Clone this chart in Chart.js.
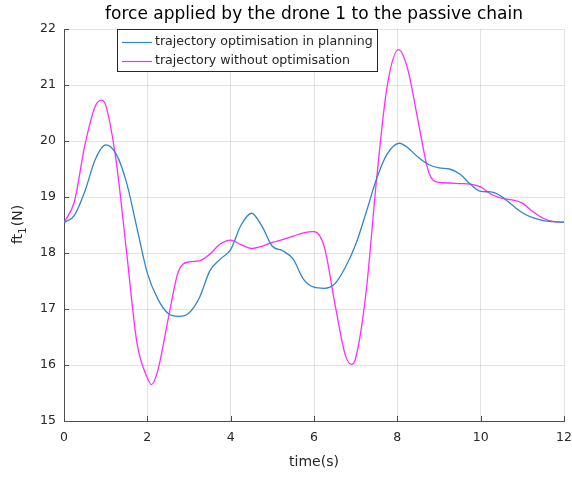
<!DOCTYPE html>
<html>
<head>
<meta charset="utf-8">
<script src="https://cdn.jsdelivr.net/npm/chart.js@4"></script>
<style>
  html, body { margin: 0; padding: 0; background: #fff; }
</style>
</head>
<body>
<canvas id="forceChart" width="572" height="479"></canvas>
<script>
// Force on the passive chain from drone 1, two trajectories
const timePlanned = [0, 0.25, 0.5, 0.75, 1.0, 1.25, 1.5, 1.75, 2.0, 2.25, 2.5, 2.75, 3.0, 3.25, 3.5, 3.75,
  4.0, 4.25, 4.5, 4.75, 5.0, 5.25, 5.5, 5.75, 6.0, 6.25, 6.5, 6.75, 7.0, 7.25, 7.5, 7.75,
  8.05, 8.25, 8.5, 8.75, 9.0, 9.25, 9.5, 9.75, 10.0, 10.25, 10.5, 10.75, 11.0, 11.25, 11.5, 11.75, 12];
const forcePlanned = [18.54, 18.67, 19.10, 19.67, 19.93, 19.77, 19.26, 18.45, 17.64, 17.18, 16.92, 16.87, 16.93, 17.20, 17.68, 17.89,
  18.06, 18.50, 18.71, 18.48, 18.12, 18.04, 17.89, 17.53, 17.39, 17.37, 17.45, 17.74, 18.15, 18.72, 19.32, 19.76,
  19.96, 19.88, 19.71, 19.58, 19.52, 19.50, 19.41, 19.23, 19.10, 19.09, 19.01, 18.86, 18.72, 18.63, 18.58, 18.56, 18.55];

const timeRaw = [0, 0.25, 0.5, 0.75, 0.9, 1.0, 1.25, 1.5, 1.75, 2.0, 2.1, 2.25, 2.5, 2.75, 3.0, 3.25, 3.5, 3.75,
  4.0, 4.25, 4.5, 4.75, 5.0, 5.25, 5.5, 5.75, 6.0, 6.25, 6.5, 6.75, 6.9, 7.0, 7.25, 7.5, 7.75,
  8.03, 8.25, 8.5, 8.75, 9.0, 9.25, 9.5, 9.75, 10.0, 10.25, 10.5, 10.75, 11.0, 11.25, 11.5, 11.75, 12];
const forceRaw = [18.54, 18.92, 19.92, 20.62, 20.73, 20.64, 19.65, 18.03, 16.40, 15.77, 15.65, 15.90, 16.82, 17.68, 17.84, 17.86, 17.98, 18.16,
  18.23, 18.15, 18.08, 18.12, 18.19, 18.24, 18.30, 18.36, 18.38, 18.10, 17.10, 16.18, 16.01, 16.12, 17.30, 19.30, 20.95,
  21.63, 21.28, 20.35, 19.45, 19.26, 19.25, 19.24, 19.23, 19.18, 19.05, 18.98, 18.95, 18.89, 18.74, 18.62, 18.56, 18.55];

const seriesLabels = ['trajectory optimisation in planning', 'trajectory without optimisation'];
const xTicks = [0, 2, 4, 6, 8, 10, 12];
const yTicks = [15, 16, 17, 18, 19, 20, 21, 22];

const FONT = '"DejaVu Sans", "Noto Sans", sans-serif';
const TEXT = '#262626';

function toPoints(xs, ys) {
  return xs.map((x, i) => ({ x: x, y: ys[i] }));
}

// title, y label, inward tick marks and the boxed legend
const decorations = {
  id: 'decorations',
  afterDraw(chart) {
    const { ctx, chartArea: a, scales } = chart;
    ctx.save();

    // inward ticks
    ctx.strokeStyle = '#4d4d4d';
    ctx.lineWidth = 1;
    ctx.beginPath();
    xTicks.forEach(v => {
      const px = Math.round(scales.x.getPixelForValue(v)) + 0.5;
      ctx.moveTo(px, a.bottom);
      ctx.lineTo(px, a.bottom - 5);
    });
    yTicks.forEach(v => {
      const py = Math.round(scales.y.getPixelForValue(v)) + 0.5;
      ctx.moveTo(a.left, py);
      ctx.lineTo(a.left + 5, py);
    });
    ctx.stroke();

    // title
    ctx.fillStyle = '#000';
    ctx.font = '17px ' + FONT;
    ctx.textAlign = 'center';
    ctx.textBaseline = 'middle';
    ctx.fillText('force applied by the drone 1 to the passive chain', (a.left + a.right) / 2, 15);

    // y axis label with subscript
    ctx.fillStyle = TEXT;
    ctx.translate(18, (a.top + a.bottom) / 2);
    ctx.rotate(-Math.PI / 2);
    ctx.textAlign = 'left';
    ctx.textBaseline = 'middle';
    const big = '14px ' + FONT, small = '10.5px ' + FONT;
    ctx.font = big; const w1 = ctx.measureText('ft').width;
    ctx.font = small; const w2 = ctx.measureText('1').width;
    ctx.font = big; const w3 = ctx.measureText('(N)').width;
    const x0 = -(w1 + w2 + w3) / 2;
    ctx.font = big; ctx.fillText('ft', x0, 0);
    ctx.font = small; ctx.fillText('1', x0 + w1, 5);
    ctx.font = big; ctx.fillText('(N)', x0 + w1 + w2 + 1, 0);
    ctx.setTransform(1, 0, 0, 1, 0, 0);

    // legend box
    const bx = 117, by = 29, bw = 260, bh = 42;
    ctx.fillStyle = '#fff';
    ctx.fillRect(bx, by, bw, bh);
    ctx.strokeStyle = '#262626';
    ctx.lineWidth = 1;
    ctx.strokeRect(bx + 0.5, by + 0.5, bw, bh);
    ctx.font = '12.6px ' + FONT;
    ctx.textAlign = 'left';
    ctx.textBaseline = 'middle';
    chart.data.datasets.forEach((ds, i) => {
      const ry = by + 13 + i * 18.5;
      ctx.strokeStyle = ds.borderColor;
      ctx.lineWidth = 1.2;
      ctx.beginPath();
      ctx.moveTo(122, Math.round(ry) + 0.5);
      ctx.lineTo(152, Math.round(ry) + 0.5);
      ctx.stroke();
      ctx.fillStyle = TEXT;
      ctx.fillText(ds.label, 155, ry);
    });
    ctx.restore();
  }
};

const ctx = document.getElementById('forceChart').getContext('2d');
new Chart(ctx, {
  type: 'line',
  data: {
    datasets: [{
      label: seriesLabels[0],
      data: toPoints(timePlanned, forcePlanned),
      borderColor: '#2f86c8',
      borderWidth: 1.3,
      cubicInterpolationMode: 'monotone'
    }, {
      label: seriesLabels[1],
      data: toPoints(timeRaw, forceRaw),
      borderColor: '#ff2bff',
      borderWidth: 1.3,
      cubicInterpolationMode: 'monotone'
    }]
  },
  options: {
    responsive: false,
    animation: false,
    layout: { padding: { top: 29, right: 0, left: 0, bottom: 0 } },
    elements: { point: { radius: 0 } },
    plugins: {
      legend: { display: false },
      title: { display: false },
      tooltip: { enabled: false }
    },
    scales: {
      x: {
        type: 'linear',
        min: 0,
        max: 12,
        afterBuildTicks(s) { s.ticks = xTicks.map(v => ({ value: v })); },
        ticks: { color: TEXT, font: { family: FONT, size: 12.5 }, padding: 9, maxRotation: 0 },
        grid: { color: 'rgba(0,0,0,0.11)', drawTicks: false },
        border: { color: '#4d4d4d' },
        title: { display: true, text: 'time(s)', color: TEXT, font: { family: FONT, size: 14 }, padding: { bottom: 8 } },
        afterFit(s) {
          s.height = 58;
          s.paddingLeft = 0;
          s.paddingRight = 8;
        }
      },
      y: {
        min: 15,
        max: 22,
        afterBuildTicks(s) { s.ticks = yTicks.map(v => ({ value: v })); },
        ticks: { color: TEXT, font: { family: FONT, size: 12.5 }, padding: 8 },
        grid: { color: 'rgba(0,0,0,0.11)', drawTicks: false },
        border: { color: '#4d4d4d' },
        afterFit(s) { s.width = 64; }
      }
    }
  },
  plugins: [decorations]
});
</script>
</body>
</html>
